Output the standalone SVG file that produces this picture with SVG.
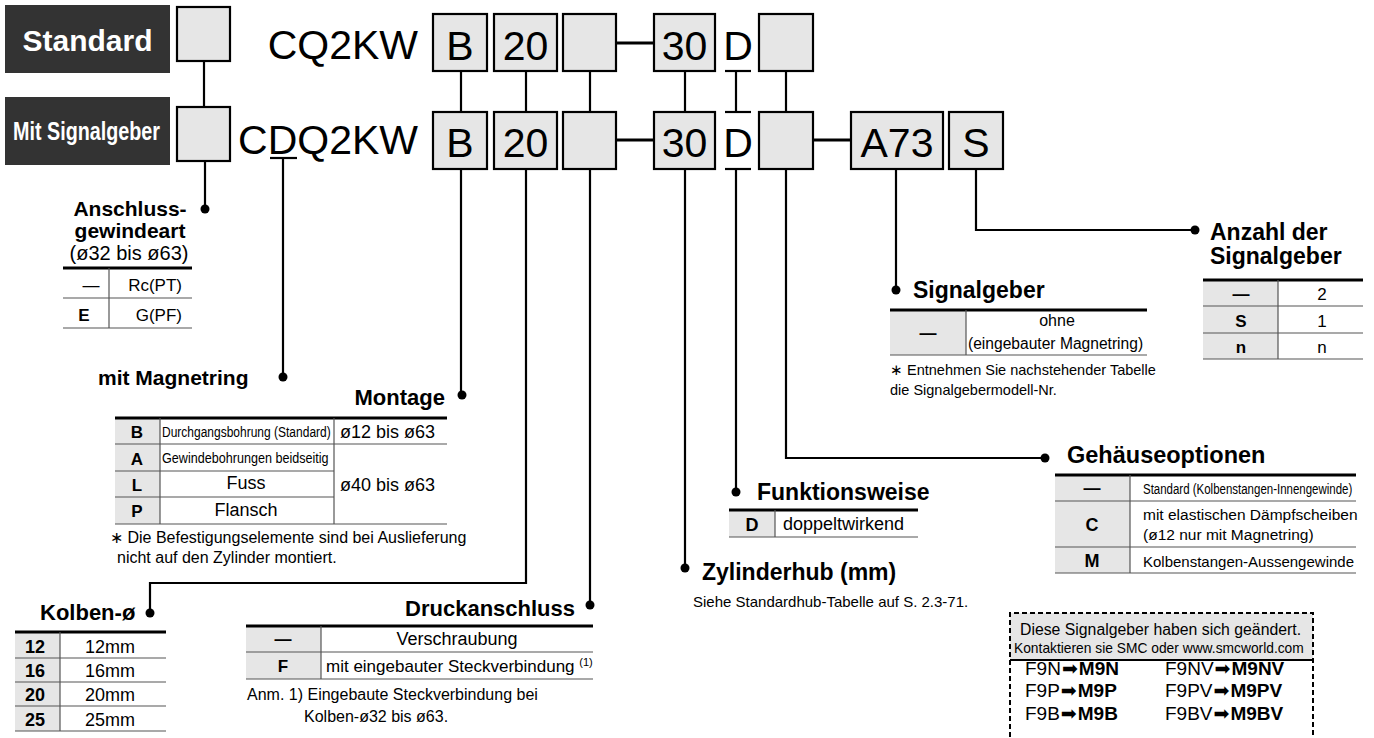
<svg xmlns="http://www.w3.org/2000/svg" width="1374" height="738" viewBox="0 0 1374 738">
<style>
text{font-family:"Liberation Sans",Arial,sans-serif;fill:#000}
.box{fill:#e6e6e6;stroke:#000;stroke-width:2.2}
.code{font-size:41px}
.h{font-weight:bold;font-size:22px}
.t{font-size:17px}
.b{font-weight:bold}
.n{font-size:16px}
.thick{stroke:#000;stroke-width:3}
.thin{stroke:#555;stroke-width:1.2}
.cell{fill:#e6e6e6}
.conn{fill:none;stroke:#000;stroke-width:2.2}
.dot{fill:#000}
.mid{text-anchor:middle}
.end{text-anchor:end}
.arr{font-family:"DejaVu Sans",sans-serif;font-size:19px}
</style>
<rect width="1374" height="738" fill="#fff"/>

<g id="label-standard">
<rect x="5" y="5" width="165" height="68" fill="#333"/>
<text x="87.5" y="51" class="mid b" style="font-size:30px;fill:#fff">Standard</text>
</g>
<g id="label-signalgeber">
<rect x="5" y="97" width="165" height="68" fill="#333"/>
<text transform="translate(13,140) scale(0.76,1)" class="b" style="font-size:26px;fill:#fff">Mit Signalgeber</text>
</g>

<g id="row1">
<rect class="box" x="177" y="7" width="53" height="54"/>
<text x="418" y="59" class="code end">CQ2KW</text>
<rect class="box" x="433" y="14" width="54" height="57"/><text x="460" y="60" class="code mid">B</text>
<rect class="box" x="494" y="14" width="63" height="57"/><text x="525.5" y="60" class="code mid">20</text>
<rect class="box" x="563" y="14" width="53" height="57"/>
<rect class="box" x="654" y="14" width="61" height="57"/><text x="684.5" y="60" class="code mid">30</text>
<text x="738" y="60" class="code mid">D</text>
<rect class="box" x="759" y="14" width="54" height="57"/>
</g>

<g id="row2">
<rect class="box" x="177" y="107" width="53" height="54"/>
<text x="418" y="154" class="code end">CDQ2KW</text>
<rect class="box" x="433" y="112" width="54" height="57"/><text x="460" y="157" class="code mid">B</text>
<rect class="box" x="494" y="112" width="63" height="57"/><text x="525.5" y="157" class="code mid">20</text>
<rect class="box" x="563" y="112" width="53" height="57"/>
<rect class="box" x="654" y="112" width="61" height="57"/><text x="684.5" y="157" class="code mid">30</text>
<text x="738" y="157" class="code mid">D</text>
<rect class="box" x="759" y="112" width="54" height="57"/>
<rect class="box" x="851" y="112" width="92" height="57"/><text x="897" y="157" class="code mid">A73</text>
<rect class="box" x="949" y="112" width="54" height="57"/><text x="976" y="157" class="code mid">S</text>
</g>

<g id="connectors" class="conn">
<line x1="204" y1="61" x2="204" y2="107"/>
<line x1="461" y1="71" x2="461" y2="112"/>
<line x1="526" y1="71" x2="526" y2="112"/>
<line x1="590" y1="71" x2="590" y2="112"/>
<line x1="685" y1="71" x2="685" y2="112"/>
<line x1="736" y1="71" x2="736" y2="112"/>
<line x1="786" y1="71" x2="786" y2="112"/>
<line x1="616" y1="43" x2="654" y2="43" style="stroke-width:3.2"/>
<line x1="616" y1="140" x2="654" y2="140" style="stroke-width:3.2"/>
<line x1="813" y1="140" x2="851" y2="140" style="stroke-width:3.2"/>
<line x1="725" y1="71" x2="751" y2="71"/>
<line x1="725" y1="112" x2="751" y2="112"/>
<line x1="725" y1="169" x2="751" y2="169"/>
<line x1="270" y1="158" x2="297" y2="158"/>
<path d="M205 161 V209"/>
<path d="M283 158 V377"/>
<path d="M461 169 V395"/>
<path d="M526 169 V583 H150 V613"/>
<path d="M590 169 V605"/>
<path d="M685 169 V568"/>
<path d="M736 169 V492"/>
<path d="M786 169 V458 H1045"/>
<path d="M896 169 V290"/>
<path d="M976 169 V230 H1195"/>
</g>

<g id="dots" class="dot">
<circle cx="205" cy="209" r="4.5"/>
<circle cx="283" cy="377" r="4.5"/>
<circle cx="462" cy="395" r="4.5"/>
<circle cx="150" cy="613" r="4.5"/>
<circle cx="590" cy="605" r="4.5"/>
<circle cx="685" cy="568" r="4.5"/>
<circle cx="736" cy="492" r="4.5"/>
<circle cx="1045" cy="458" r="4.5"/>
<circle cx="896" cy="290" r="4.5"/>
<circle cx="1195" cy="230" r="4.5"/>
</g>

<g id="anschluss">
<text x="130" y="216" class="h mid" style="font-size:21px">Anschluss-</text>
<text x="130" y="238" class="h mid" style="font-size:21px">gewindeart</text>
<text x="129" y="260" class="mid" style="font-size:20px">(ø32 bis ø63)</text>
<line class="thick" x1="63" y1="268" x2="192" y2="268"/>
<line class="thin" x1="63" y1="298" x2="192" y2="298"/>
<line class="thin" x1="63" y1="328" x2="192" y2="328"/>
<line class="thin" x1="109" y1="268" x2="109" y2="328"/>
<text x="91" y="291" class="t mid">—</text>
<text x="182" y="291" class="t end">Rc(PT)</text>
<text x="84" y="321" class="t mid b">E</text>
<text x="182" y="321" class="t end">G(PF)</text>
</g>

<g id="magnetring">
<text x="98" y="385" class="h" style="font-size:21px">mit Magnetring</text>
</g>

<g id="montage">
<text x="445" y="405" class="h end">Montage</text>
<rect class="cell" x="115" y="418" width="45" height="106"/>
<line class="thick" x1="115" y1="418" x2="447" y2="418"/>
<line class="thin" x1="115" y1="444" x2="447" y2="444"/>
<line class="thin" x1="115" y1="471" x2="334" y2="471"/>
<line class="thin" x1="115" y1="497" x2="334" y2="497"/>
<line class="thin" x1="115" y1="524" x2="447" y2="524"/>
<line class="thin" x1="160" y1="418" x2="160" y2="524"/>
<line class="thin" x1="334" y1="418" x2="334" y2="524"/>
<text x="137" y="438" class="t mid b">B</text>
<text x="137" y="465" class="t mid b">A</text>
<text x="137" y="491" class="t mid b">L</text>
<text x="137" y="517" class="t mid b">P</text>
<text transform="translate(162,437) scale(0.8,1)" style="font-size:15px">Durchgangsbohrung (Standard)</text>
<text transform="translate(162,463) scale(0.84,1)" style="font-size:15px">Gewindebohrungen beidseitig</text>
<text x="246" y="489" class="mid" style="font-size:18px">Fuss</text>
<text x="246" y="516" class="mid" style="font-size:18px">Flansch</text>
<text x="340" y="438" style="font-size:18px">ø12 bis ø63</text>
<text x="340" y="491" style="font-size:18px">ø40 bis ø63</text>
<text x="110" y="543" class="n">∗ Die Befestigungselemente sind bei Auslieferung</text>
<text x="117" y="563" class="n">nicht auf den Zylinder montiert.</text>
</g>

<g id="kolben">
<text x="40" y="620" class="h">Kolben-ø</text>
<rect class="cell" x="15" y="632" width="45" height="99"/>
<line class="thick" x1="15" y1="632" x2="166" y2="632"/>
<line class="thin" x1="15" y1="658" x2="166" y2="658"/>
<line class="thin" x1="15" y1="682" x2="166" y2="682"/>
<line class="thin" x1="15" y1="706" x2="166" y2="706"/>
<line class="thin" x1="15" y1="731" x2="166" y2="731"/>
<line class="thin" x1="60" y1="632" x2="60" y2="731"/>
<text x="35" y="653" class="t mid b" style="font-size:18px">12</text>
<text x="35" y="677" class="t mid b" style="font-size:18px">16</text>
<text x="35" y="701" class="t mid b" style="font-size:18px">20</text>
<text x="35" y="726" class="t mid b" style="font-size:18px">25</text>
<text x="110" y="653" class="mid" style="font-size:18px">12mm</text>
<text x="110" y="677" class="mid" style="font-size:18px">16mm</text>
<text x="110" y="701" class="mid" style="font-size:18px">20mm</text>
<text x="110" y="726" class="mid" style="font-size:18px">25mm</text>
</g>

<g id="druckanschluss">
<text x="575" y="616" class="h end">Druckanschluss</text>
<rect class="cell" x="246" y="626" width="75" height="53"/>
<line class="thick" x1="246" y1="626" x2="593" y2="626"/>
<line class="thin" x1="246" y1="652" x2="593" y2="652"/>
<line class="thin" x1="246" y1="679" x2="593" y2="679"/>
<line class="thin" x1="321" y1="626" x2="321" y2="679"/>
<text x="283" y="645" class="t mid b">—</text>
<text x="457" y="645" class="mid" style="font-size:18px">Verschraubung</text>
<text x="283" y="672" class="t mid b">F</text>
<text x="326" y="672" class="t">mit eingebauter Steckverbindung <tspan style="font-size:11px" dy="-6">(1)</tspan></text>
<text x="247" y="700" class="n">Anm. 1) Eingebaute Steckverbindung bei</text>
<text x="304" y="722" class="n">Kolben-ø32 bis ø63.</text>
</g>

<g id="zylinderhub">
<text x="702" y="580" class="h" style="font-size:23px">Zylinderhub (mm)</text>
<text x="693" y="607" style="font-size:15px">Siehe Standardhub-Tabelle auf S. 2.3-71.</text>
</g>

<g id="funktionsweise">
<text x="757" y="500" class="h" style="font-size:23px">Funktionsweise</text>
<rect class="cell" x="729" y="510" width="46" height="27"/>
<line class="thick" x1="729" y1="510" x2="918" y2="510"/>
<line class="thin" x1="729" y1="537" x2="918" y2="537"/>
<line class="thin" x1="775" y1="510" x2="775" y2="537"/>
<text x="752" y="531" class="t mid b" style="font-size:18px">D</text>
<text x="783" y="530" style="font-size:18px">doppeltwirkend</text>
</g>

<g id="signalgeber">
<text x="913" y="298" class="h" style="font-size:23px">Signalgeber</text>
<rect class="cell" x="890" y="310" width="76" height="45"/>
<line class="thick" x1="890" y1="310" x2="1147" y2="310"/>
<line class="thin" x1="890" y1="355" x2="1147" y2="355"/>
<line class="thin" x1="966" y1="310" x2="966" y2="355"/>
<text x="928" y="339" class="t mid b">—</text>
<text x="1057" y="326" class="mid n">ohne</text>
<text x="968" y="349" style="font-size:15.6px">(eingebauter Magnetring)</text>
<text x="890" y="375" style="font-size:14.5px">∗ Entnehmen Sie nachstehender Tabelle</text>
<text x="890" y="395" style="font-size:14.5px">die Signalgebermodell-Nr.</text>
</g>

<g id="anzahl">
<text x="1210" y="240" class="h" style="font-size:23px">Anzahl der</text>
<text x="1210" y="264" class="h" style="font-size:23px">Signalgeber</text>
<rect class="cell" x="1203" y="280" width="75" height="79"/>
<line class="thick" x1="1203" y1="280" x2="1363" y2="280"/>
<line class="thin" x1="1203" y1="306" x2="1363" y2="306"/>
<line class="thin" x1="1203" y1="333" x2="1363" y2="333"/>
<line class="thin" x1="1203" y1="359" x2="1363" y2="359"/>
<line class="thin" x1="1278" y1="280" x2="1278" y2="359"/>
<text x="1241" y="300" class="t mid b">—</text>
<text x="1241" y="327" class="t mid b">S</text>
<text x="1241" y="353" class="t mid b">n</text>
<text x="1322" y="300" class="t mid">2</text>
<text x="1322" y="327" class="t mid">1</text>
<text x="1322" y="353" class="t mid">n</text>
</g>

<g id="gehaeuse">
<text x="1067" y="463" class="h" style="font-size:23.5px">Gehäuseoptionen</text>
<rect class="cell" x="1055" y="475" width="75" height="98"/>
<line class="thick" x1="1055" y1="475" x2="1356" y2="475"/>
<line class="thin" x1="1055" y1="501" x2="1356" y2="501"/>
<line class="thin" x1="1055" y1="547" x2="1356" y2="547"/>
<line class="thin" x1="1055" y1="573" x2="1356" y2="573"/>
<line class="thin" x1="1130" y1="475" x2="1130" y2="573"/>
<text x="1092" y="494" class="t mid b">—</text>
<text x="1092" y="531" class="t mid b" style="font-size:18px">C</text>
<text x="1092" y="567" class="t mid b" style="font-size:18px">M</text>
<text transform="translate(1143,494) scale(0.82,1)" style="font-size:14px">Standard (Kolbenstangen-Innengewinde)</text>
<text x="1143" y="520" style="font-size:15.5px">mit elastischen Dämpfscheiben</text>
<text x="1143" y="540" style="font-size:15.5px">(ø12 nur mit Magnetring)</text>
<text x="1143" y="567" style="font-size:15px">Kolbenstangen-Aussengewinde</text>
</g>

<g id="hinweis">
<rect x="1010" y="613" width="303" height="47" fill="#e6e6e6"/>
<line x1="1010" y1="660" x2="1313" y2="660" stroke="#000" stroke-width="2"/>
<path d="M1010 745 V613 H1313 V745" fill="none" stroke="#000" stroke-width="2" stroke-dasharray="5 3"/>
<text x="1020" y="635" style="font-size:15.8px">Diese Signalgeber haben sich geändert.</text>
<text transform="translate(1014,653) scale(0.92,1)" style="font-size:15px">Kontaktieren sie SMC oder www.smcworld.com</text>
<g style="font-size:19px">
<text x="1025" y="675">F9N<tspan class="arr" dx="1">➡</tspan><tspan class="b" dx="1">M9N</tspan></text>
<text x="1025" y="697">F9P<tspan class="arr" dx="1">➡</tspan><tspan class="b" dx="1">M9P</tspan></text>
<text x="1025" y="720">F9B<tspan class="arr" dx="1">➡</tspan><tspan class="b" dx="1">M9B</tspan></text>
<text x="1165" y="675">F9NV<tspan class="arr" dx="1">➡</tspan><tspan class="b" dx="1">M9NV</tspan></text>
<text x="1165" y="697">F9PV<tspan class="arr" dx="1">➡</tspan><tspan class="b" dx="1">M9PV</tspan></text>
<text x="1165" y="720">F9BV<tspan class="arr" dx="1">➡</tspan><tspan class="b" dx="1">M9BV</tspan></text>
</g>
</g>
</svg>
